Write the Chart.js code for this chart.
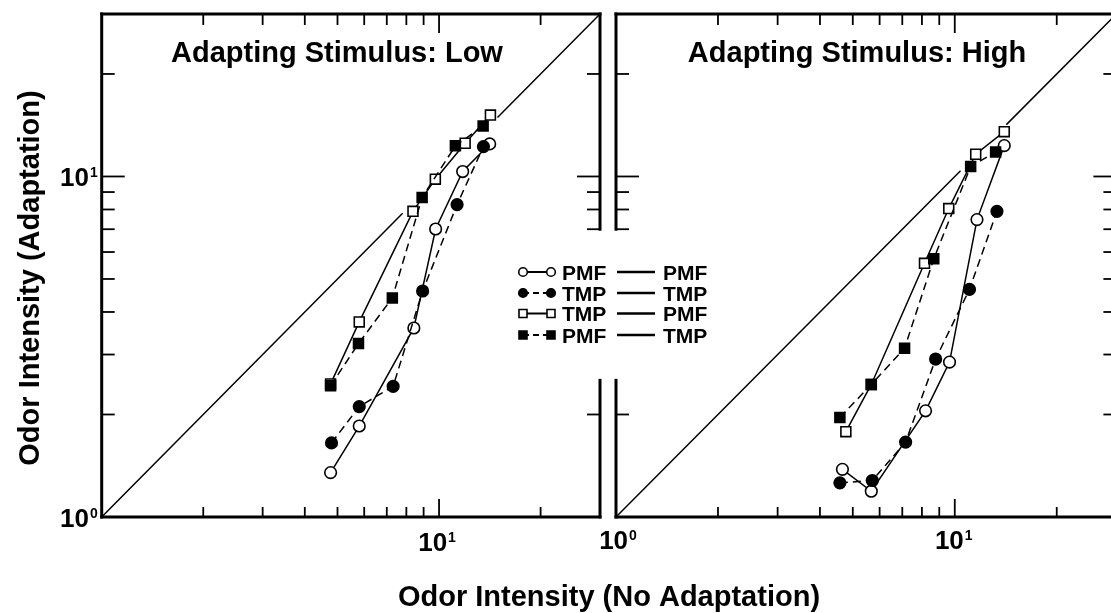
<!DOCTYPE html>
<html><head><meta charset="utf-8">
<script src="https://cdn.jsdelivr.net/npm/chart.js@4/dist/chart.umd.min.js"></script>
<style>
html,body{margin:0;padding:0;background:#fff;overflow:hidden;width:1111px;height:613px;}
canvas{position:absolute;left:0;top:0;}
</style></head><body>
<canvas id="low" width="1125" height="613"></canvas>
<canvas id="high" width="1125" height="613"></canvas>
<script>
// ---------- texts ----------
const panelTitles = ['Adapting Stimulus: Low', 'Adapting Stimulus: High'];
const xAxisTitle = 'Odor Intensity (No Adaptation)';
const yAxisTitle = 'Odor Intensity (Adaptation)';
const decadeBase = '10';
const decadeExponents = ['0', '1'];
const decadeValues = [1, 10];
const tickValues = [2, 3, 4, 5, 6, 7, 8, 9, 10, 20];
const axisMin = 1, axisMax = 30;
const legendFrom = ['PMF', 'TMP', 'TMP', 'PMF'];
const legendTo = ['PMF', 'TMP', 'PMF', 'TMP'];

// ---------- Adapting stimulus: Low ----------
const lowPmfPmfX = [4.77, 5.80, 8.42, 9.77, 11.75, 14.13];
const lowPmfPmfY = [1.35, 1.85, 3.59, 7.01, 10.34, 12.46];
const lowTmpTmpX = [4.80, 5.80, 7.31, 8.94, 11.31, 13.54];
const lowTmpTmpY = [1.65, 2.11, 2.42, 4.61, 8.27, 12.24];
const lowTmpPmfX = [4.77, 5.80, 8.37, 9.75, 11.95, 14.20];
const lowTmpPmfY = [2.46, 3.74, 7.90, 9.82, 12.52, 15.15];
const lowPmfTmpX = [4.77, 5.77, 7.27, 8.91, 11.18, 13.51];
const lowPmfTmpY = [2.43, 3.23, 4.40, 8.68, 12.30, 14.07];
const lowIdentityX = [1, 7.8, 10.5, 14.9, 30];
const lowIdentityY = [1, 7.8, null, 14.9, 30];

// ---------- Adapting stimulus: High ----------
const highPmfPmfX = [4.66, 5.67, 8.20, 9.65, 11.63, 14.00];
const highPmfPmfY = [1.38, 1.19, 2.05, 2.85, 7.47, 12.32];
const highTmpTmpX = [4.58, 5.71, 7.16, 8.78, 11.05, 13.32];
const highTmpTmpY = [1.26, 1.28, 1.66, 2.91, 4.66, 7.90];
const highTmpPmfX = [4.77, 5.67, 8.14, 9.60, 11.53, 14.00];
const highTmpPmfY = [1.78, 2.45, 5.56, 8.05, 11.62, 13.54];
const highPmfTmpX = [4.58, 5.67, 7.11, 8.67, 11.14, 13.20];
const highPmfTmpY = [1.96, 2.45, 3.13, 5.73, 10.70, 11.80];
const highIdentityX = [1, 10.4, 12.0, 14.2, 30];
const highIdentityY = [1, 10.4, null, 14.2, 30];

const gapLow = 2.52, gapHigh = 7;
const FONT = '"Liberation Sans", Arial, sans-serif';

function pts(xs, ys) { return xs.map((x, i) => ({ x: x, y: ys[i] })); }

function series(xs, ys, shape, filled, dashed) {
  return {
    data: pts(xs, ys), showLine: true, borderColor: '#000', borderWidth: 1.5,
    borderDash: dashed ? [8, 5] : [], pointStyle: shape,
    pointRadius: shape === 'rect' ? 7 : 5.8,
    pointBackgroundColor: filled ? '#000' : '#fff', pointBorderColor: '#000',
    pointBorderWidth: 1.6, tension: 0, spanGaps: false
  };
}
function identity(xs, ys) {
  return { data: pts(xs, ys), showLine: true, borderColor: '#000', borderWidth: 1.5,
    pointRadius: 0, spanGaps: false, tension: 0 };
}

function seg(ctx, x1, y1, x2, y2) { ctx.beginPath(); ctx.moveTo(x1, y1); ctx.lineTo(x2, y2); ctx.stroke(); }

// draws "10" with a small raised exponent; align: 'left' | 'center' | 'right'
function drawPow(ctx, exp, x, y, align) {
  const baseFont = 'bold 26px ' + FONT, expFont = 'bold 14px ' + FONT;
  ctx.font = baseFont;
  const wb = ctx.measureText(decadeBase).width;
  ctx.font = expFont;
  const we = ctx.measureText(exp).width;
  const total = wb + 1 + we;
  let left = x;
  if (align === 'center') left = x - total / 2;
  else if (align === 'right') left = x - total;
  ctx.textAlign = 'left';
  ctx.font = baseFont;
  ctx.fillText(decadeBase, left, y);
  ctx.font = expFont;
  ctx.fillText(exp, left + wb + 1, y - 9);
}

function framePlugin(side) {
  return {
    id: 'frame' + side,
    beforeDatasetsDraw(chart) {
      const { ctx, chartArea: a, scales: { x, y } } = chart;
      ctx.save();
      ctx.strokeStyle = '#000';
      ctx.lineCap = 'square';
      ctx.lineWidth = 3;
      seg(ctx, a.left, a.bottom, a.right, a.bottom);
      seg(ctx, a.left, a.top, a.right, a.top);
      const yGapTop = y.getPixelForValue(gapHigh), yGapBot = y.getPixelForValue(gapLow);
      if (side === 'high') {
        seg(ctx, a.left, a.top, a.left, yGapTop);
        seg(ctx, a.left, yGapBot, a.left, a.bottom);
      } else seg(ctx, a.left, a.top, a.left, a.bottom);
      if (side === 'low') {
        seg(ctx, a.right, a.top, a.right, yGapTop);
        seg(ctx, a.right, yGapBot, a.right, a.bottom);
      } else seg(ctx, a.right, a.top, a.right, a.bottom);
      ctx.lineWidth = 1.8;
      ctx.lineCap = 'butt';
      tickValues.forEach(v => {
        const major = v === 10;
        const px = x.getPixelForValue(v);
        seg(ctx, px, a.bottom, px, a.bottom - (major ? 18 : 10));
        seg(ctx, px, a.top, px, a.top + (major ? 19 : 11));
        const py = y.getPixelForValue(v);
        const inGap = v > gapLow && v < gapHigh;
        const len = major ? 23 : 13;
        if (!(side === 'high' && inGap)) seg(ctx, a.left, py, a.left + len, py);
        if (!(side === 'low' && inGap)) seg(ctx, a.right, py, a.right - len, py);
      });
      ctx.restore();
    },
    afterDraw(chart) {
      const { ctx, chartArea: a, scales: { x, y } } = chart;
      ctx.save();
      ctx.fillStyle = '#000';
      ctx.textBaseline = 'alphabetic';
      ctx.font = 'bold 29px ' + FONT;
      ctx.textAlign = 'center';
      const titleCenter = side === 'low' ? 337 : 857;
      ctx.fillText(side === 'low' ? panelTitles[0] : panelTitles[1], titleCenter, 62);
      if (side === 'low') {
        decadeValues.forEach((v, i) => drawPow(ctx, decadeExponents[i], a.left - 4, y.getPixelForValue(v) + 10, 'right'));
        drawPow(ctx, decadeExponents[1], x.getPixelForValue(10) - 2, 551, 'center');
        ctx.font = 'bold 29px ' + FONT;
        ctx.textAlign = 'center';
        ctx.fillText(xAxisTitle, 609, 606);
        ctx.save();
        ctx.translate(39, 278);
        ctx.rotate(-Math.PI / 2);
        ctx.fillText(yAxisTitle, 0, 0);
        ctx.restore();
        // legend
        const rows = [272, 293, 313.5, 335];
        const shapes = [['circle', false, false], ['circle', true, true], ['rect', false, false], ['rect', true, true]];
        rows.forEach((ry, i) => {
          const [shape, filled, dashed] = shapes[i];
          ctx.lineWidth = 2;
          ctx.strokeStyle = '#000';
          ctx.setLineDash(dashed ? [6, 4] : []);
          seg(ctx, 523, ry, 551, ry);
          ctx.setLineDash([]);
          [523, 551].forEach(cx => {
            ctx.beginPath();
            if (shape === 'circle') ctx.arc(cx, ry, 4.3, 0, Math.PI * 2);
            else ctx.rect(cx - 4, ry - 4, 8, 8);
            ctx.fillStyle = filled ? '#000' : '#fff';
            ctx.fill();
            ctx.lineWidth = 1.6;
            ctx.stroke();
          });
          ctx.fillStyle = '#000';
          ctx.font = 'bold 21px ' + FONT;
          ctx.textAlign = 'left';
          ctx.fillText(legendFrom[i], 562, ry + 7.5);
          ctx.lineWidth = 2.6;
          seg(ctx, 617, ry, 655, ry);
          ctx.fillText(legendTo[i], 663, ry + 7.5);
        });
      } else {
        decadeValues.forEach((v, i) => drawPow(ctx, decadeExponents[i], x.getPixelForValue(v) + (i ? -1 : 2), 549, 'center'));
      }
      ctx.restore();
    }
  };
}

function makeChart(id, side, padding, data) {
  return new Chart(document.getElementById(id), {
    type: 'scatter',
    data: { datasets: data },
    options: {
      responsive: false, animation: false, devicePixelRatio: 1,
      layout: { padding: padding },
      plugins: { legend: { display: false }, tooltip: { enabled: false }, title: { display: false } },
      scales: {
        x: { type: 'logarithmic', min: axisMin, max: axisMax, display: false },
        y: { type: 'logarithmic', min: axisMin, max: axisMax, display: false }
      },
      clip: false
    },
    plugins: [framePlugin(side)]
  });
}

makeChart('low', 'low', { left: 101.7, right: 1125 - 600, top: 14, bottom: 613 - 517 }, [
  identity(lowIdentityX, lowIdentityY),
  series(lowPmfTmpX, lowPmfTmpY, 'rect', true, true),
  series(lowTmpPmfX, lowTmpPmfY, 'rect', false, false),
  series(lowTmpTmpX, lowTmpTmpY, 'circle', true, true),
  series(lowPmfPmfX, lowPmfPmfY, 'circle', false, false)
]);
makeChart('high', 'high', { left: 616, right: 1125 - 1118, top: 14, bottom: 613 - 517 }, [
  identity(highIdentityX, highIdentityY),
  series(highPmfTmpX, highPmfTmpY, 'rect', true, true),
  series(highTmpPmfX, highTmpPmfY, 'rect', false, false),
  series(highTmpTmpX, highTmpTmpY, 'circle', true, true),
  series(highPmfPmfX, highPmfPmfY, 'circle', false, false)
]);
</script>
</body></html>
